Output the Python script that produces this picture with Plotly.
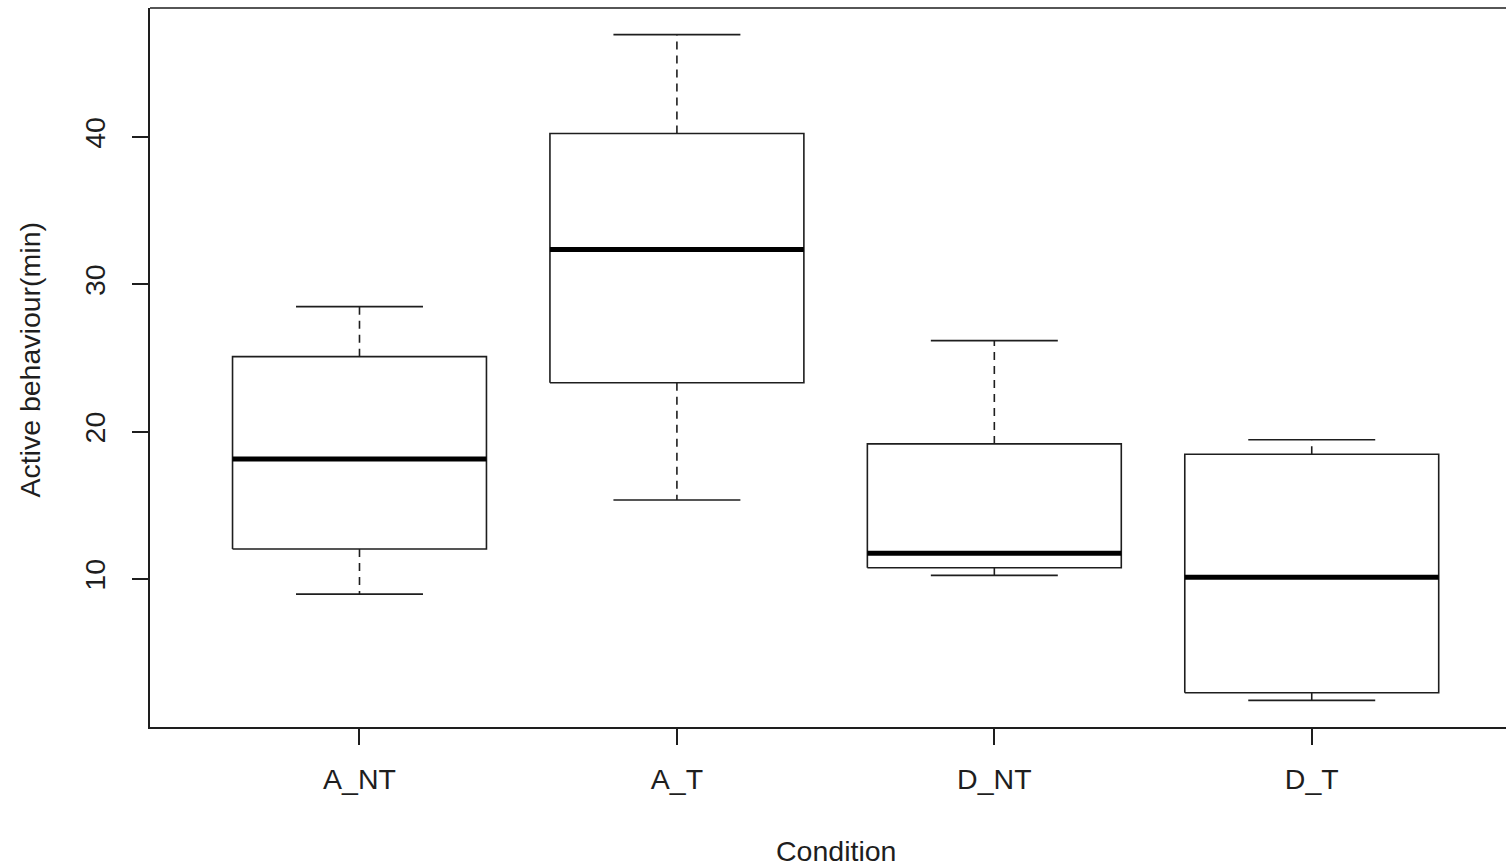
import plotly.graph_objects as go

categories = ["A_NT", "A_T", "D_NT", "D_T"]
lower_whisker = [8.98, 15.37, 10.25, 1.77]
q1 = [12.04, 23.33, 10.77, 2.29]
median = [18.16, 32.38, 11.75, 10.12]
q3 = [25.10, 40.25, 19.18, 18.48]
upper_whisker = [28.50, 46.96, 26.19, 19.46]
y_ticks = [10, 20, 30, 40]

FONT = "Liberation Sans, Arial, sans-serif"
INK = "#1e1e1e"
BOX_HALF = 0.4
CAP_HALF = 0.2

positions = list(range(1, len(categories) + 1))

box_x, box_y = [], []
med_x, med_y = [], []
wh_x, wh_y = [], []
cap_x, cap_y = [], []
for p, lo, a, m, b, hi in zip(positions, lower_whisker, q1, median, q3, upper_whisker):
    box_x += [p - BOX_HALF, p + BOX_HALF, p + BOX_HALF, p - BOX_HALF, p - BOX_HALF, None]
    box_y += [a, a, b, b, a, None]
    med_x += [p - BOX_HALF, p + BOX_HALF, None]
    med_y += [m, m, None]
    wh_x += [p, p, None, p, p, None]
    wh_y += [b, hi, None, a, lo, None]
    cap_x += [p - CAP_HALF, p + CAP_HALF, None, p - CAP_HALF, p + CAP_HALF, None]
    cap_y += [hi, hi, None, lo, lo, None]

fig = go.Figure()
fig.add_trace(go.Scatter(x=wh_x, y=wh_y, mode="lines",
                         line=dict(color=INK, width=1.6, dash="8px,6px"), hoverinfo="skip"))
fig.add_trace(go.Scatter(x=cap_x, y=cap_y, mode="lines",
                         line=dict(color=INK, width=1.6), hoverinfo="skip"))
fig.add_trace(go.Scatter(x=box_x, y=box_y, mode="lines",
                         line=dict(color=INK, width=1.6), fill="toself",
                         fillcolor="rgba(255,255,255,0)", hoverinfo="skip"))
fig.add_trace(go.Scatter(x=med_x, y=med_y, mode="lines",
                         line=dict(color="#000000", width=5), hoverinfo="skip"))

fig.update_layout(
    width=1506, height=868,
    margin=dict(l=150, r=0, t=8, b=141),
    paper_bgcolor="white", plot_bgcolor="white",
    showlegend=False,
    font=dict(family=FONT, size=28.5, color=INK),
    xaxis=dict(range=[0.34, 4.612], tickvals=positions, ticktext=categories,
               showgrid=False, zeroline=False, showline=True, linecolor=INK, linewidth=1.6,
               ticks="outside", ticklen=16, tickwidth=1.6, tickcolor=INK,
               ticklabelstandoff=10,
               tickfont=dict(family=FONT, size=28.5, color=INK)),
    yaxis=dict(range=[-0.04, 48.77], tickvals=y_ticks, ticktext=[str(v) for v in y_ticks],
               showgrid=False, zeroline=False, showline=True, linecolor=INK, linewidth=1.6,
               ticks="outside", ticklen=16, tickwidth=1.6, tickcolor=INK, tickangle=-90,
               ticklabelstandoff=16,
               tickfont=dict(family=FONT, size=28.5, color=INK)),
    shapes=[dict(type="line", xref="paper", yref="paper", x0=0, x1=1, y0=1, y1=1,
                 line=dict(color=INK, width=1.6))],
    annotations=[
        dict(text="Condition", xref="x", yref="paper", x=2.5, y=-0.172,
             xanchor="center", yanchor="middle", showarrow=False,
             font=dict(family=FONT, size=28.5, color=INK)),
        dict(text="Active behaviour(min)", xref="paper", yref="y", x=-0.0885, y=24.9,
             xanchor="center", yanchor="middle", showarrow=False, textangle=-90,
             font=dict(family=FONT, size=28.5, color=INK)),
    ],
)

fig.write_html("out.html")
